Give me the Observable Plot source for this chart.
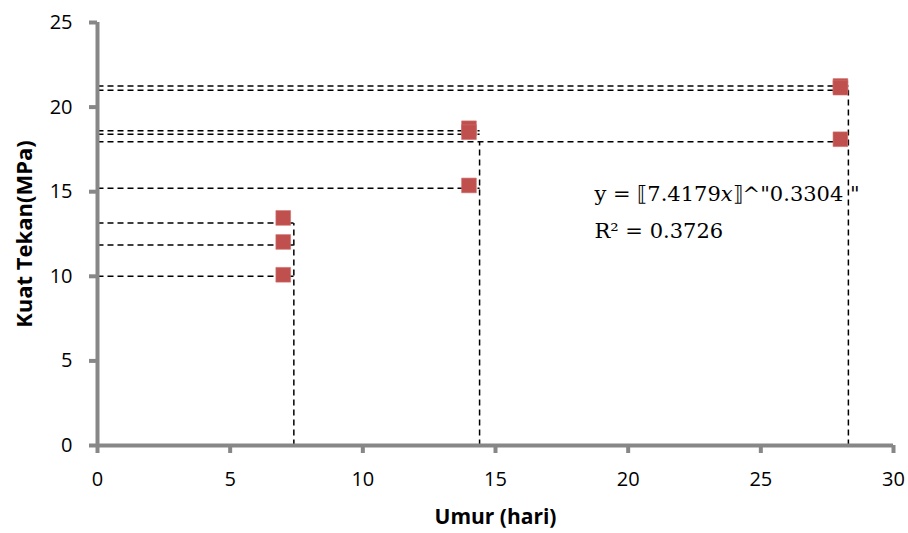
<!DOCTYPE html>
<html><head><meta charset="utf-8">
<script src="https://cdn.jsdelivr.net/npm/d3@7"></script>
<script src="https://cdn.jsdelivr.net/npm/@observablehq/plot@0.6"></script>
<style>body{margin:0;background:#fff}#chart svg{display:block}</style>
</head><body><div id="chart"></div>
<script>
// Data
const umur = [7, 7, 7, 14, 14, 14, 28, 28, 28];
const kuatTekan = [13.45, 12.03, 10.09, 18.75, 18.52, 15.37, 21.25, 21.15, 18.1];
const guideY = [21.25, 21.0, 18.6, 18.4, 17.95, 15.2, 13.15, 11.85, 10.0];
const guideEndX = [28.3, 28.3, 14.4, 14.4, 28.3, 14.4, 7.4, 7.4, 7.4];
const dropX = [7.4, 14.4, 28.3];
const dropTopY = [13.15, 17.95, 21.0];
const xTicks = [0, 5, 10, 15, 20, 25, 30];
const yTicks = [0, 5, 10, 15, 20, 25];
const equationText = "y = ⟦7.4179𝑥⟧^\"0.3304 \"";
const r2Text = "R² = 0.3726";
const xTitle = "Umur (hari)";
const yTitle = "Kuat Tekan(MPa)";

const points = umur.map((x, i) => ({x, y: kuatTekan[i]}));
const hGuides = guideY.map((y, i) => ({x1: 0, x2: guideEndX[i], y}));
const vGuides = dropX.map((x, i) => ({x, y1: 0, y2: dropTopY[i]}));

const axisGray = "#878787";
const chart = Plot.plot({
  width: 908,
  height: 533,
  marginLeft: 97,
  marginRight: 15,
  marginTop: 22,
  marginBottom: 88,
  style: {fontFamily: "'Open Sans', sans-serif", fontSize: "20px", color: "#000", background: "#fff"},
  x: {domain: [0, 30]},
  y: {domain: [0, 25]},
  marks: [
    Plot.link(hGuides, {x1: "x1", x2: "x2", y1: "y", y2: "y", stroke: "#000", strokeWidth: 1.5, strokeDasharray: "6,4"}),
    Plot.link(vGuides, {x1: "x", x2: "x", y1: "y1", y2: "y2", stroke: "#000", strokeWidth: 1.5, strokeDasharray: "6,4"}),
    Plot.ruleY([0], {stroke: axisGray, strokeWidth: 4}),
    Plot.ruleX([0], {y1: 0, y2: 25, stroke: axisGray, strokeWidth: 4}),
    Plot.axisX({ticks: xTicks, tickSize: 8, tickPadding: 18, stroke: axisGray, strokeWidth: 4, label: null, tickFormat: d => String(d)}),
    Plot.axisY({ticks: yTicks, tickSize: 8, tickPadding: 17, stroke: axisGray, strokeWidth: 4, label: null, tickFormat: d => String(d)}),
    Plot.dot(points, {x: "x", y: "y", symbol: "square", r: 8.3, fill: "#C0504D", stroke: "#cf6f6c", strokeWidth: 0.6}),
    Plot.text([equationText], {x: 18.73, y: 14.84, text: d => d, textAnchor: "start", lineAnchor: "middle", fontFamily: "DejaVu Serif", fontSize: 21, fill: "#000"}),
    Plot.text([r2Text], {x: 18.73, y: 12.66, text: d => d, textAnchor: "start", lineAnchor: "middle", fontFamily: "DejaVu Serif", fontSize: 21, fill: "#000"}),
    Plot.text([xTitle], {frameAnchor: "bottom", dy: 72, text: d => d, textAnchor: "middle", fontFamily: "Open Sans", fontWeight: "bold", fontSize: 21, lineAnchor: "middle"}),
    Plot.text([yTitle], {frameAnchor: "left", dx: -73, rotate: -90, text: d => d, textAnchor: "middle", fontFamily: "Open Sans", fontWeight: "bold", fontSize: 22, lineAnchor: "middle"})
  ]
});
document.getElementById("chart").append(chart);
</script>
</body></html>
